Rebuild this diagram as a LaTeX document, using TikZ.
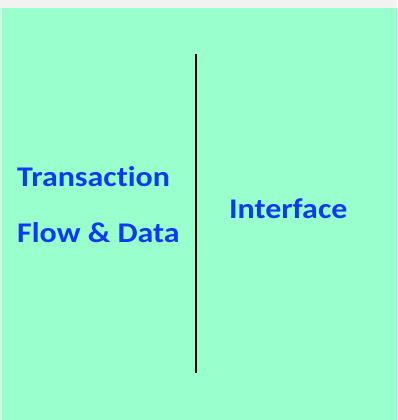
\documentclass[tikz,border=0pt]{standalone}
\usepackage{fontspec}
\setmainfont{Carlito}
\newfontfamily\labelfont[Ligatures=NoCommon,FakeStretch=1.12]{Carlito}
\definecolor{panelgreen}{RGB}{153,255,204}
\definecolor{edgegreen}{RGB}{204,255,230}
\definecolor{topgray}{RGB}{242,242,242}
\definecolor{labelblue}{RGB}{12,58,245}
\begin{document}
\begin{tikzpicture}[x=1pt,y=-1pt,
  lbl/.style={text=labelblue,font=\labelfont\fontsize{28.5}{34}\selectfont\bfseries,inner sep=0pt,anchor=base west}]
\useasboundingbox (0,0) rectangle (397,420);
% background: thin grey strip on top, green panel below
\fill[topgray] (0,0) rectangle (397,8);
\fill[panelgreen] (0,8) rectangle (397,420);
\fill[edgegreen] (0,8) rectangle (2,420);
% divider
\coordinate (top) at (195.5,54);
\coordinate (bot) at (195.5,373);
\draw[line width=2pt] (top) -- (bot);
% labels
\node[lbl] (tx) at (17,186) {Transaction};
\node[lbl] (fd) at (17,242) {Flow \& Data};
\node[lbl] (if) at (229,218) {Interface};
\end{tikzpicture}
\end{document}
